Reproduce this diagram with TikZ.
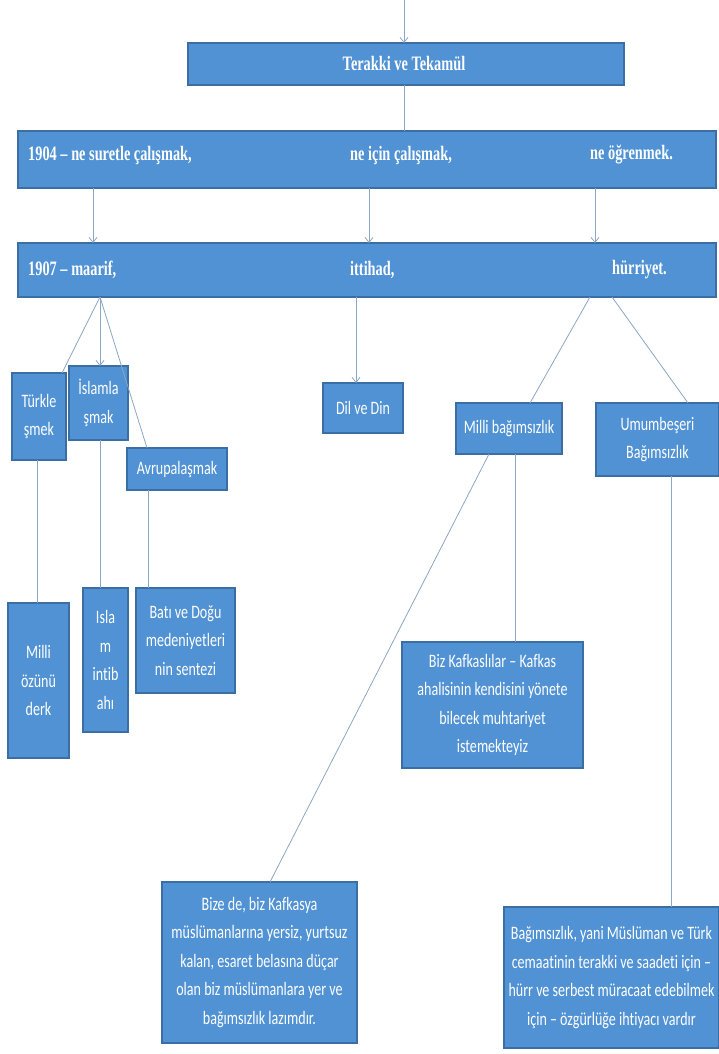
\documentclass[tikz,border=0pt]{standalone}
\usepackage{fontspec}
\usetikzlibrary{arrows.meta,calc}
\setmainfont{Carlito}
\newfontfamily\hdfont[FakeStretch=0.7]{Liberation Serif}
\newfontfamily\bxfont[FakeStretch=0.74,Ligatures=NoCommon]{Carlito}
\definecolor{boxfill}{HTML}{5092D4}
\definecolor{boxline}{HTML}{3B6EA3}
\definecolor{conn}{HTML}{8CA6C6}
\tikzset{
  bluebox/.style={draw=boxline, line width=1.1pt, fill=boxfill, inner sep=0pt, outer sep=0pt,
    text=white, align=center, font=\bxfont\fontsize{19}{28.5}\selectfont},
  rowbox/.style={draw=boxline, line width=1.1pt, fill=boxfill, inner sep=0pt, outer sep=0pt},
  hdtext/.style={text=white, inner sep=0pt, font=\hdfont\bfseries\fontsize{20.5}{24}\selectfont},
  link/.style={draw=conn, line width=0.8pt},
  arr/.style={link, -{Straight Barb[length=5pt,width=8pt]}}
}
\begin{document}
\begin{tikzpicture}[x=1pt,y=-1pt]
\useasboundingbox[fill=white] (0,0) rectangle (719,1054);

% top level
\coordinate (topc) at (404,0);
\node[rowbox, minimum width=436pt, minimum height=42pt] (terakki) at (406,64) {};
\node[hdtext] (terakkit) at (404,64) {Terakki ve Tekamül};

% 1904 row
\node[rowbox, minimum width=698pt, minimum height=57pt] (r1904) at (367,159.5) {};
\node[hdtext, anchor=west] (t1904a) at (28,155) {1904 – ne suretle çalışmak,};
\node[hdtext, anchor=west] (t1904b) at (350,155) {ne için çalışmak,};
\node[hdtext, anchor=west] (t1904c) at (590,155) {ne öğrenmek.};

% 1907 row
\node[rowbox, minimum width=698pt, minimum height=54pt] (r1907) at (367,270) {};
\node[hdtext, anchor=west] (t1907a) at (28,270) {1907 – maarif,};
\node[hdtext, anchor=west] (t1907b) at (350,270) {ittihad,};
\node[hdtext, anchor=west] (t1907c) at (612,270) {hürriyet.};

% second level boxes
\node[bluebox, minimum width=54pt, minimum height=87pt] (turk) at (39,416.5) {Türkle\\şmek};
\node[bluebox, minimum width=59pt, minimum height=74pt] (islam) at (98.5,403) {İslamla\\şmak};
\node[bluebox, minimum width=100pt, minimum height=42pt] (avr) at (177,469) {Avrupalaşmak};
\node[bluebox, minimum width=80pt, minimum height=50pt] (dil) at (363,408) {Dil ve Din};
\node[bluebox, minimum width=106pt, minimum height=51pt] (milli) at (509,428.5) {Milli bağımsızlık};
\node[bluebox, minimum width=123pt, minimum height=73pt] (umum) at (657.5,439.5) {Umumbeşeri\\Bağımsızlık};

% third level boxes
\node[bluebox, minimum width=61pt, minimum height=155pt] (ozunu) at (38.5,680.5) {Milli\\özünü\\derk};
\node[bluebox, minimum width=45pt, minimum height=144pt] (intibah) at (105.5,660) {Isla\\m\\intib\\ahı};
\node[bluebox, minimum width=99pt, minimum height=105pt] (bati) at (185.5,640.5) {Batı ve Doğu\\medeniyetleri\\nin sentezi};
\node[bluebox, minimum width=181pt, minimum height=126pt] (kafk) at (492.5,705) {Biz Kafkaslılar – Kafkas\\ahalisinin kendisini yönete\\bilecek muhtariyet\\istemekteyiz};
\node[bluebox, minimum width=195pt, minimum height=161pt] (bize) at (259.5,962.5) {Bize de, biz Kafkasya\\müslümanlarına yersiz, yurtsuz\\kalan, esaret belasına düçar\\olan biz müslümanlara yer ve\\bağımsızlık lazımdır.};
\node[bluebox, minimum width=215pt, minimum height=141pt] (bag) at (611.5,977.5) {Bağımsızlık, yani Müslüman ve Türk\\cemaatinin terakki ve saadeti için –\\hürr ve serbest müracaat edebilmek\\için – özgürlüğe ihtiyacı vardır};

% connectors: top
\draw[arr] (topc) -- (topc |- terakki.north);
\draw[link] (topc |- terakki.south) -- (topc |- r1904.north);

% 1904 -> 1907
\draw[arr] (r1904.south -| 93,0) -- (r1907.north -| 93,0);
\draw[arr] (r1904.south -| 369,0) -- (r1907.north -| 369,0);
\draw[arr] (r1904.south -| 595,0) -- (r1907.north -| 595,0);

% maarif fan
\coordinate (fan) at (r1907.south -| 100,0);
\draw[link] (fan) -- ([xshift=-4pt]turk.north east);
\draw[arr] (fan) -- (fan |- islam.north);
\draw[link] (fan) -- ([xshift=20pt]avr.north west);

% ittihad
\draw[arr] (r1907.south -| 356,0) -- (dil.north -| 356,0);

% hurriyet
\draw[link] (r1907.south -| 590,0) -- ([xshift=74pt]milli.north west);
\draw[link] (r1907.south -| 612,0) -- ([xshift=92pt]umum.north west);

% lower verticals
\draw[link] (turk.south -| 37,0) -- (ozunu.north -| 37,0);
\draw[link] (islam.south -| 100,0) -- (intibah.north -| 100,0);
\draw[link] ([xshift=21pt]avr.south west) -- (bati.north -| 148,0);
\draw[link] ([xshift=33pt]milli.south west) -- ([xshift=108pt]bize.north west);
\draw[link] (milli.south -| 515,0) -- (kafk.north -| 515,0);
\draw[link] (umum.south -| 671,0) -- (bag.north -| 671,0);
\end{tikzpicture}
\end{document}
